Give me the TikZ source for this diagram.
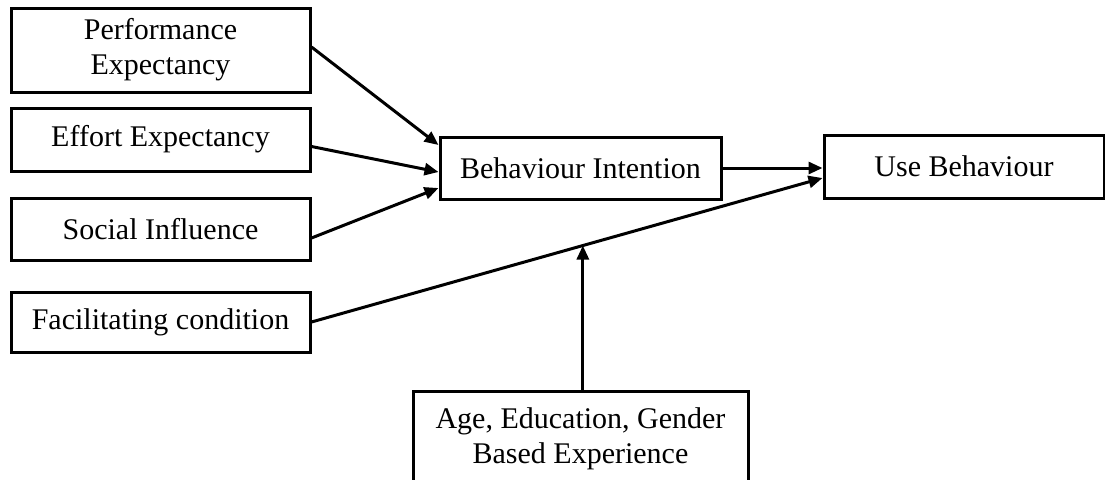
\documentclass[tikz,border=0pt]{standalone}
\usepackage{fontspec}
\setmainfont{Liberation Serif}
\usepackage{tikz}
\usetikzlibrary{positioning}
\usetikzlibrary{arrows.meta}
\usetikzlibrary{calc}
\tikzset{
    factor/.style = {rectangle, line width=1.5pt, draw=black, align=center, inner sep=0pt, font=\fontsize{15}{17.5}\selectfont},
    edgen/.style = {-{Triangle[length=7pt,width=6pt]}, line width=1.5pt}
}
\begin{document}
\begin{tikzpicture}[x=0.5pt,y=-0.5pt]
\useasboundingbox (0,0) rectangle (1105,479);
%
\node[factor, minimum width=149.5pt, minimum height=42pt] at (160.5, 50) (pe) {Performance\\Expectancy};
\node[factor, minimum width=149.5pt, minimum height=31.5pt] at (160.5, 139.5) (ee) {Effort Expectancy};
\node[factor, minimum width=149.5pt, minimum height=31pt] at (160.5, 229) (si) {Social Influence};
\node[factor, minimum width=149.5pt, minimum height=30pt] at (160.5, 322) (fc) {Facilitating condition};
\node[factor, minimum width=140.5pt, minimum height=31pt] at (580.5, 168) (bi) {Behaviour Intention};
\node[factor, minimum width=140pt, minimum height=31.5pt] at (964, 166.5) (ub) {Use Behaviour};
\node[factor, minimum width=167.5pt, minimum height=48pt] at (580.5, 439) (mod) {Age, Education, Gender\\Based Experience};
%
\draw[edgen] ($(pe.east)+(0,-3)$) -- ($(bi.west)+(0,-23)$);
\draw[edgen] ($(ee.east)+(0,7)$) -- ($(bi.west)+(0,4)$);
\draw[edgen] ($(si.east)+(0,9)$) -- ($(bi.west)+(0,20)$);
\draw[edgen] (bi.east) -- (bi.east -| ub.west);
\draw[edgen] (fc.east) -- coordinate[pos=0.531] (fcmid) ($(ub.west)+(0,11.5)$);
\draw[edgen] (fcmid |- mod.north) -- (fcmid);

\end{tikzpicture}
\end{document}
